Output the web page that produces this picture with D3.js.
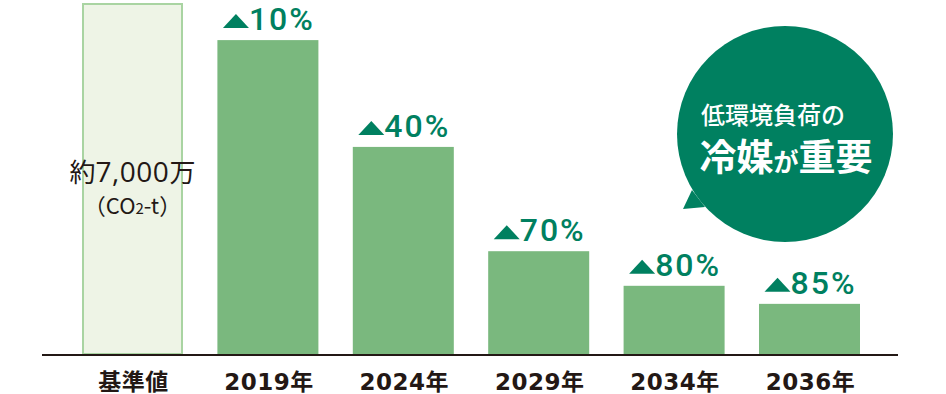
<!DOCTYPE html>
<html lang="ja">
<head>
    <meta charset="UTF-8">
    <title>冷媒 CO2 削減</title>
    <script src="https://d3js.org/d3.v7.min.js"></script>
    <style>
        body {
            margin: 0;
            background-color: #fff;
        }
        .bar {
            fill: #7ab87e;
        }
        .base-bar {
            fill: #eef4e6;
            stroke: #a9d4a2;
            stroke-width: 2px;
        }
        .cat-label {
            font-family: "DejaVu Sans", "Noto Sans CJK JP", sans-serif;
            font-weight: bold;
            font-size: 23px;
            fill: #231815;
            letter-spacing: 0.5px;
        }
        .pct-label {
            font-family: "Roboto", sans-serif;
            font-weight: 500;
            font-size: 32px;
            fill: #008060;
            letter-spacing: 2px;
        }
    </style>
</head>
<body>
    <svg id="chart" width="946" height="394"></svg>
    <script>
        // 排出量（万t-CO2）と削減率
        const categories = ["基準値", "2019年", "2024年", "2029年", "2034年", "2036年"];
        const emissions = [7000, 6260, 4130, 2050, 1360, 1000];
        const reductions = [null, 10, 40, 70, 80, 85];

        const svg = d3.select("#chart");

        const x = d3.scaleBand()
            .domain(categories)
            .range([82, 860])
            .paddingInner(0.254)
            .paddingOuter(0);

        const y = d3.scaleLinear()
            .domain([0, 7000])
            .range([354, 3]);

        const data = categories.map((c, i) => ({ cat: c, value: emissions[i], pct: reductions[i] }));

        // bars
        svg.selectAll(".bar")
            .data(data.slice(1))
            .enter()
            .append("rect")
            .attr("class", "bar")
            .attr("x", d => x(d.cat))
            .attr("y", d => y(d.value))
            .attr("width", x.bandwidth())
            .attr("height", d => y(0) - y(d.value));

        // base bar (outlined)
        const base = data[0];
        svg.append("rect")
            .attr("class", "base-bar")
            .attr("x", x(base.cat) + 1)
            .attr("y", y(base.value) + 1)
            .attr("width", x.bandwidth() - 2)
            .attr("height", y(0) - y(base.value) - 1);

        const baseText = svg.append("text")
            .attr("x", x(base.cat) + x.bandwidth() / 2)
            .attr("y", 182)
            .attr("text-anchor", "middle")
            .style("font-family", "'Noto Sans CJK JP', sans-serif")
            .style("font-size", "26px")
            .style("font-weight", 400)
            .style("fill", "#231815");
        baseText.append("tspan").text("約");
        baseText.append("tspan").text("7,000").style("font-family", "'Open Sans', sans-serif").style("font-size", "28px").style("letter-spacing", "0.5px");
        baseText.append("tspan").text("万");

        const unitText = svg.append("text")
            .attr("x", x(base.cat) + x.bandwidth() / 2)
            .attr("y", 214)
            .attr("text-anchor", "middle")
            .style("font-family", "'Noto Sans CJK JP', sans-serif")
            .style("font-size", "22px")
            .style("font-weight", 400)
            .style("fill", "#231815");
        unitText.append("tspan").text("（CO");
        unitText.append("tspan").text("2").style("font-size", "15px");
        unitText.append("tspan").text("-t）");

        // baseline
        svg.append("line")
            .attr("x1", 42)
            .attr("x2", 898)
            .attr("y1", y(0) + 1)
            .attr("y2", y(0) + 1)
            .attr("stroke", "#231815")
            .attr("stroke-width", 2);

        // category labels
        svg.selectAll(".cat-label")
            .data(data)
            .enter()
            .append("text")
            .attr("class", "cat-label")
            .attr("x", d => x(d.cat) + x.bandwidth() / 2 + 1)
            .attr("y", 390)
            .attr("text-anchor", "middle")
            .text(d => d.cat);

        // reduction labels: triangle + percentage
        data.slice(1).forEach(d => {
            const g = svg.append("g");
            const t = g.append("text")
                .attr("class", "pct-label")
                .attr("x", 26)
                .attr("y", 0)
                .text(d.pct + "%");
            const w = 26 + t.node().getComputedTextLength() - 2;
            g.append("path")
                .attr("d", "M0,-2 L26,-2 L13,-16 Z")
                .attr("fill", "#008060");
            g.attr("transform", `translate(${x(d.cat) + x.bandwidth() / 2 - w / 2},${y(d.value) - 10})`);
        });

        // speech bubble
        const bubble = svg.append("g").attr("transform", "translate(785,134)");
        bubble.append("path")
            .attr("d", "M-93,56 L-102,75 L-80,73 Z")
            .attr("fill", "#008060");
        bubble.append("circle")
            .attr("r", 108)
            .attr("fill", "#008060");
        bubble.append("text")
            .attr("x", -12)
            .attr("y", -10)
            .attr("text-anchor", "middle")
            .style("font-family", "'Noto Sans CJK JP', sans-serif")
            .style("font-size", "24px")
            .style("font-weight", 500)
            .style("fill", "#fff")
            .text("低環境負荷の");
        const b2 = bubble.append("text")
            .attr("x", 1)
            .attr("y", 37)
            .attr("text-anchor", "middle")
            .style("font-family", "'Noto Sans CJK JP', sans-serif")
            .style("font-weight", "bold")
            .style("font-size", "37px")
            .style("fill", "#fff");
        b2.append("tspan").text("冷媒");
        b2.append("tspan").text("が").style("font-size", "25px");
        b2.append("tspan").text("重要");
    </script>
</body>
</html>
